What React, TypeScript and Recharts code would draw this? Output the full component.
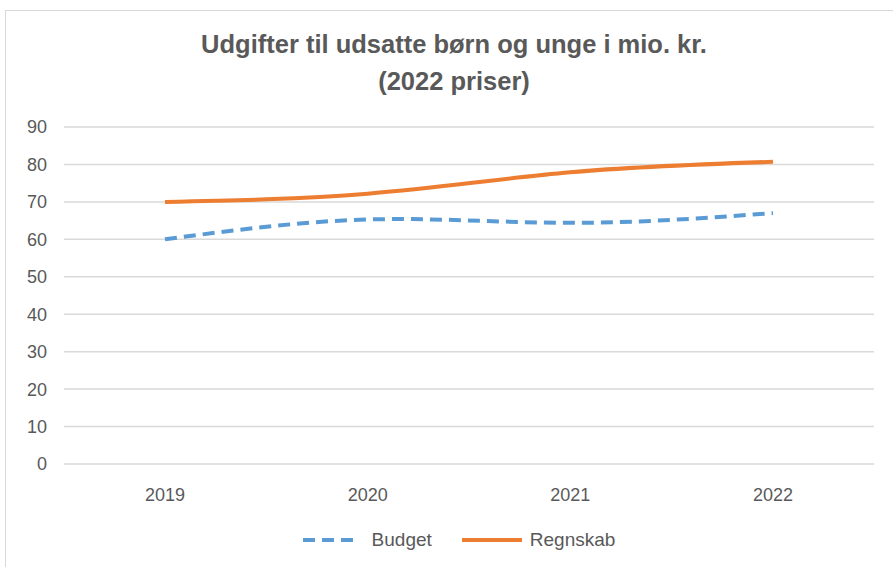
import React from "react";
import { LineChart, Line, XAxis, YAxis, CartesianGrid, Legend } from "recharts";

const years = ["2019", "2020", "2021", "2022"];
const budget = [60, 65.3, 64.4, 67.0];
const regnskab = [70, 72.2, 77.9, 80.7];
const yTicks = [0, 10, 20, 30, 40, 50, 60, 70, 80, 90];

const data = years.map((y, i) => ({ year: y, Budget: budget[i], Regnskab: regnskab[i] }));

const FONT = "'Liberation Sans', Arial, sans-serif";
const TEXT = "#595959";
const BLUE = "#5B9BD5";
const ORANGE = "#ED7D31";

const renderLegend = () => (
  <div style={{ display: "flex", justifyContent: "center", alignItems: "center", fontFamily: FONT, fontSize: 19, color: TEXT, paddingLeft: 24, height: 24 }}>
    <svg width={58} height={10} style={{ marginRight: 12 }}>
      <line x1={1} y1={5} x2={57} y2={5} stroke={BLUE} strokeWidth={4} strokeDasharray="12 7" />
    </svg>
    <span style={{ marginRight: 30 }}>Budget</span>
    <svg width={60} height={10} style={{ marginRight: 8 }}>
      <line x1={0} y1={5} x2={60} y2={5} stroke={ORANGE} strokeWidth={4} />
    </svg>
    <span>Regnskab</span>
  </div>
);

export default function App() {
  return (
    <div style={{ position: "absolute", left: 0, top: 0, width: 893, height: 567, overflow: "hidden", background: "#fff" }}>
      <div style={{ position: "absolute", left: 5, top: 10, width: 1000, height: 1000, border: "1px solid #d9d9d9" }} />
      <div style={{ position: "absolute", left: 0, top: 26, width: 908, textAlign: "center", fontFamily: FONT, fontWeight: "bold", fontSize: 25.5, color: TEXT, lineHeight: "37px" }}>
        <div>Udgifter til udsatte børn og unge i mio. kr.</div>
        <div>(2022 priser)</div>
      </div>
      <div style={{ position: "absolute", left: 0, top: 0 }}>
        <LineChart width={893} height={567} data={data} margin={{ top: 127, right: 19, bottom: 2, left: 0 }}>
          <CartesianGrid vertical={false} stroke="#d9d9d9" strokeWidth={1.5} />
          <XAxis
            dataKey="year"
            padding={{ left: 101, right: 101 }}
            axisLine={false}
            tickLine={false}
            tick={{ fill: TEXT, fontSize: 18, fontFamily: FONT }}
            tickMargin={18}
            height={50}
          />
          <YAxis
            domain={[0, 90]}
            ticks={yTicks}
            width={64}
            axisLine={false}
            tickLine={false}
            tick={{ fill: TEXT, fontSize: 18, fontFamily: FONT }}
            tickMargin={11}
          />
          <Legend verticalAlign="bottom" content={renderLegend} height={51} wrapperStyle={{ top: 528, left: 0, width: 893 }} />
          <Line type="natural" dataKey="Budget" stroke={BLUE} strokeWidth={4} strokeDasharray="12 7" dot={false} isAnimationActive={false} />
          <Line type="natural" dataKey="Regnskab" stroke={ORANGE} strokeWidth={4} dot={false} isAnimationActive={false} />
        </LineChart>
      </div>
    </div>
  );
}
